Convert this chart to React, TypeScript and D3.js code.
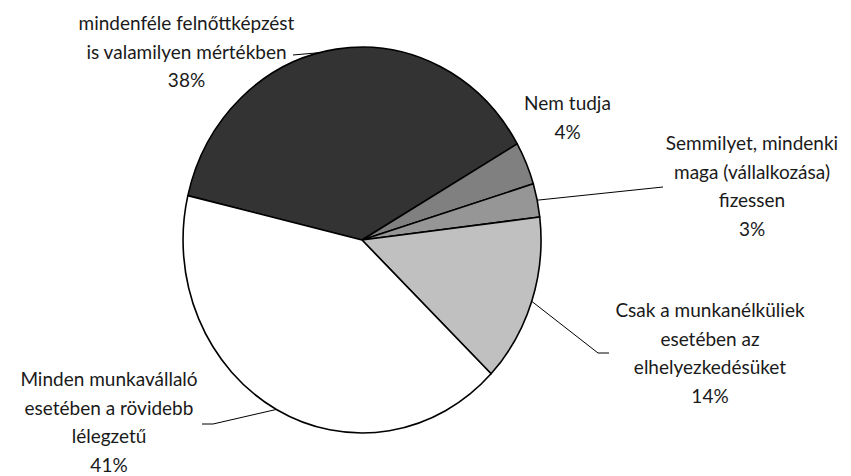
import { useMemo } from "react";
import * as d3 from "d3";

const WIDTH = 851;
const HEIGHT = 476;
const CX = 362;
const CY = 240;
const RX = 179;
const RY = 193;
const LINE_H = 28.5;
const FONT = "Lato, 'Open Sans', sans-serif";

// slice order clockwise, starting at the left edge of the dark slice
const categories = [
  ["mindenféle felnőttképzést", "is valamilyen mértékben"],
  ["Nem tudja"],
  ["Semmilyet, mindenki", "maga (vállalkozása)", "fizessen"],
  ["Csak a munkanélküliek", "esetében az", "elhelyezkedésüket"],
  ["Minden munkavállaló", "esetében a rövidebb", "lélegzetű"],
];
const values = [38, 3.6, 2.8, 14.1, 41.5];
const pctLabels = ["38%", "4%", "3%", "14%", "41%"];
const fills = ["#333333", "#808080", "#969696", "#c0c0c0", "#ffffff"];

// label placement: centre x, first baseline, leader bend/end points
const labelPos = [
  { x: 186.5, y: 30, leader: [[293, 55]], anchorDeg: 346 },
  { x: 567.5, y: 110, leader: null, anchorDeg: 0 },
  { x: 752, y: 150, leader: [[663, 187]], anchorDeg: -1 },
  { x: 710, y: 317, leader: [[598, 353], [609, 353]], anchorDeg: -1 },
  { x: 109, y: 386, leader: [[213, 424], [202, 424]], anchorDeg: -1 },
];

const START = (-76.7 * Math.PI) / 180;

function edgePoint(a: number): [number, number] {
  return [CX + RX * Math.sin(a), CY - RY * Math.cos(a)];
}

export default function App() {
  const arcs = useMemo(
    () =>
      d3
        .pie<number>()
        .sort(null)
        .startAngle(START)
        .endAngle(START + 2 * Math.PI)(values),
    []
  );
  const arc = d3.arc<d3.PieArcDatum<number>>().innerRadius(0).outerRadius(1);

  return (
    <svg
      width={WIDTH}
      height={HEIGHT}
      viewBox={`0 0 ${WIDTH} ${HEIGHT}`}
      style={{ position: "absolute", left: 0, top: 0, background: "#fff" }}
    >
      <g transform={`translate(${CX},${CY}) scale(${RX},${RY})`}>
        {arcs.map((d, i) => (
          <path
            key={i}
            d={arc(d) ?? ""}
            fill={fills[i]}
            stroke="#000"
            strokeWidth={1.6}
            vectorEffect="non-scaling-stroke"
            strokeLinejoin="round"
          />
        ))}
      </g>

      {/* leader lines */}
      {arcs.map((d, i) => {
        const lp = labelPos[i];
        if (!lp.leader) return null;
        const a =
          lp.anchorDeg >= 0
            ? (lp.anchorDeg * Math.PI) / 180
            : (d.startAngle + d.endAngle) / 2;
        const pts = [edgePoint(a), ...(lp.leader as [number, number][])];
        return (
          <path
            key={"l" + i}
            d={d3.line()(pts) ?? ""}
            fill="none"
            stroke="#000"
            strokeWidth={1}
          />
        );
      })}

      {/* labels */}
      {categories.map((lines, i) => {
        const lp = labelPos[i];
        const all = [...lines, pctLabels[i]];
        return (
          <text
            key={"t" + i}
            textAnchor="middle"
            fontFamily={FONT}
            fontSize={19}
            fill="#1a1a1a"
          >
            {all.map((s, j) => (
              <tspan key={j} x={lp.x} y={lp.y + j * LINE_H}>
                {s}
              </tspan>
            ))}
          </text>
        );
      })}
    </svg>
  );
}
